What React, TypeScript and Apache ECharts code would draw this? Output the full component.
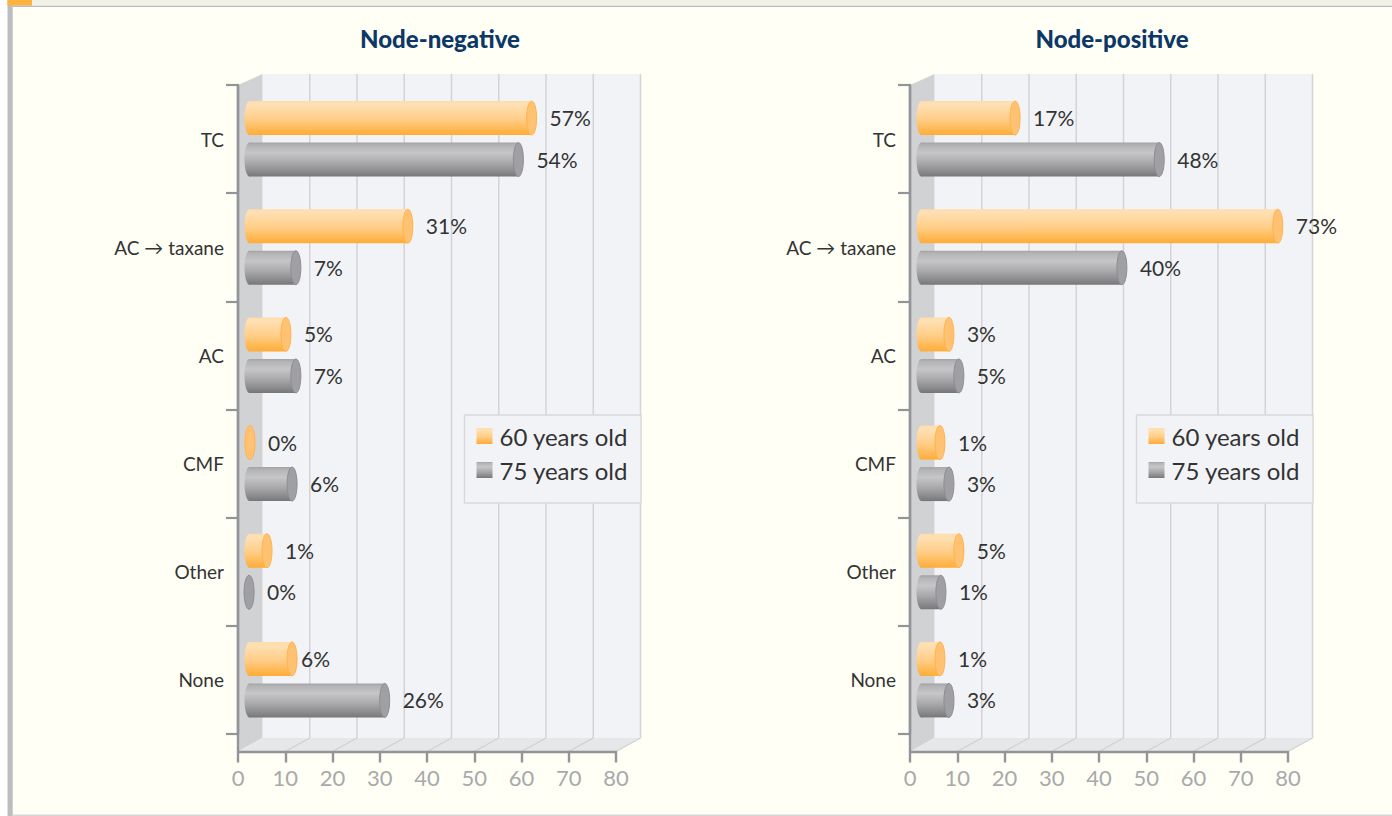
import React, { useEffect, useRef } from "react";
import * as echarts from "echarts";

const categories = ["TC", "AC → taxane", "AC", "CMF", "Other", "None"];
const axisTicks = [0, 10, 20, 30, 40, 50, 60, 70, 80];
const seriesNames = ["60 years old", "75 years old"];

// Printed percentages
const negative60 = [57, 31, 5, 0, 1, 6];
const negative75 = [54, 7, 7, 6, 0, 26];
const positive60 = [17, 73, 3, 1, 5, 1];
const positive75 = [48, 40, 5, 3, 1, 3];

// Where each 3-D cylinder's tip reads against the front x axis
const negative60Tip = [63.2, 37.0, 11.2, 3.6, 7.2, 12.5];
const negative75Tip = [60.4, 13.3, 13.3, 12.5, 3.4, 32.1];
const positive60Tip = [23.3, 78.9, 9.3, 7.4, 11.4, 7.4];
const positive75Tip = [53.8, 45.9, 11.4, 9.3, 7.6, 9.3];

const FONT = "Lato";
const DEPTH_X = 24.5;
const DEPTH_Y = 13.5;
const FLOOR_DROP = 17.5;
const TOP_RISE = 11;
const BAR_START = 6.5;
const BAR_H = 34;

const vGrad = (stops: [number, string][]) =>
  new echarts.graphic.LinearGradient(0, 0, 0, 1, stops.map(([offset, color]) => ({ offset, color })));

const orangeGrad = () => vGrad([[0, "#ffdcab"], [0.1, "#ffe0b4"], [0.55, "#ffcd86"], [0.92, "#ffb244"], [1, "#ffab38"]]);
const grayGrad = () => vGrad([[0, "#a3a3a6"], [0.08, "#b4b4b7"], [0.3, "#c6c6c8"], [0.6, "#a9a9ac"], [0.9, "#858588"], [1, "#767679"]]);

const renderScene = (params: any, api: any) => {
  const r = params.coordSys;
  const x0 = r.x;
  const x1 = r.x + r.width;
  const top = r.y;
  const bottom = r.y + r.height + FLOOR_DROP;
  const backTop = top - TOP_RISE;
  const backBottom = bottom - DEPTH_Y;
  const children: any[] = [
    { type: "rect", shape: { x: x0 + DEPTH_X, y: backTop, width: r.width, height: backBottom - backTop }, style: { fill: "#f2f3f6" } },
    { type: "polygon", shape: { points: [[x0, top], [x0 + DEPTH_X, backTop], [x0 + DEPTH_X, backBottom], [x0, bottom]] }, style: { fill: "#d1d2d4" } },
    { type: "polygon", shape: { points: [[x0, bottom], [x0 + DEPTH_X, backBottom], [x1 + DEPTH_X, backBottom], [x1, bottom]] }, style: { fill: "#e6e7e9" } },
    { type: "line", shape: { x1: x0, y1: r.y, x2: x0, y2: bottom }, style: { stroke: "#939497", lineWidth: 2.4 } },
  ];
  axisTicks.forEach((t) => {
    const x = api.coord([t, 0])[0];
    if (t > 0) {
      children.push({ type: "line", shape: { x1: x + DEPTH_X, y1: backTop, x2: x + DEPTH_X, y2: backBottom }, style: { stroke: "#d3d4d7", lineWidth: 1.5 } });
      children.push({ type: "line", shape: { x1: x, y1: bottom, x2: x + DEPTH_X, y2: backBottom }, style: { stroke: "#cfd0d3", lineWidth: 1.2 } });
    }
  });
  return { type: "group", children };
};

const makeBarRenderer = (kind: "orange" | "gray") => (params: any, api: any) => {
  const tipV = api.value(0);
  const cat = api.value(1);
  const label = api.value(2);
  const [tip, cy0] = api.coord([tipV, cat]);
  const base = api.coord([0, cat])[0] + BAR_START;
  const cy = cy0 + (kind === "orange" ? -21 : 20.5);
  const rx = 5;
  const ry = BAR_H / 2;
  const fill = kind === "orange" ? orangeGrad() : grayGrad();
  const capFill = kind === "orange" ? "#ffc272" : "#a0a0a4";
  const capStroke = kind === "orange" ? "#ffb34d" : "#8e8e92";
  const bodyW = Math.max(0, tip - base - 2 * rx);
  const labelGap = params.seriesName === seriesNames[0] && label === 6 ? 4 : 13;
  const children: any[] = [];
  if (bodyW > 0) {
    children.push({ type: "ellipse", shape: { cx: base + rx, cy, rx, ry }, style: { fill } });
    children.push({ type: "rect", shape: { x: base + rx, y: cy - ry, width: bodyW, height: BAR_H }, style: { fill } });
  }
  children.push({ type: "ellipse", shape: { cx: tip - rx, cy, rx, ry }, style: { fill: capFill, stroke: capStroke, lineWidth: 1 } });
  children.push({
    type: "text",
    x: tip + labelGap,
    y: cy - 0.5,
    style: { text: `${label}%`, fill: "#333333", font: `400 21px ${FONT}`, textAlign: "left", textVerticalAlign: "middle" },
  });
  return { type: "group", children };
};

const axisColor = "#939497";

const gridAxes = (left: number) => ({
  grid: { left, top: 85, width: 378, height: 649, containLabel: false },
  x: {
    type: "value",
    min: 0,
    max: 80,
    interval: 10,
    position: "bottom",
    offset: FLOOR_DROP,
    z: 3,
    splitLine: { show: false },
    axisLine: { show: true, onZero: false, lineStyle: { color: axisColor, width: 2.4 } },
    axisTick: { show: true, length: 11, lineStyle: { color: axisColor, width: 2.4 } },
    axisLabel: { color: "#a8a9ab", fontFamily: FONT, fontSize: 22, fontWeight: 400, margin: 15 },
  },
  y: {
    type: "category",
    data: categories,
    inverse: true,
    z: 3,
    axisLine: { show: true, onZero: false, lineStyle: { color: axisColor, width: 2.4 } },
    axisTick: { show: true, length: 12, lineStyle: { color: axisColor, width: 2.2 } },
    axisLabel: { color: "#333333", fontFamily: FONT, fontSize: 19, margin: 14, interval: 0 },
  },
});

const triple = (tips: number[], labels: number[]) => tips.map((t, i) => [t, i, labels[i]]);

const legendFor = (left: number) => ({
  left,
  top: 415,
  orient: "vertical",
  padding: [9, 13, 21, 12],
  itemGap: 10,
  itemWidth: 16,
  itemHeight: 16,
  icon: "rect",
  backgroundColor: "#f2f3f6",
  borderColor: "#d8d9dc",
  borderWidth: 1.5,
  z: 6,
  textStyle: { color: "#333333", fontFamily: FONT, fontSize: 24, padding: [0, 0, 0, 2] },
  data: [
    { name: seriesNames[0], itemStyle: { color: orangeGrad() } },
    { name: seriesNames[1], itemStyle: { color: grayGrad() } },
  ],
});

const titleStyle = { color: "#0c3868", fontFamily: FONT, fontWeight: 900, fontSize: 24 };

export default function App() {
  const ref = useRef<HTMLDivElement>(null);
  useEffect(() => {
    document.body.style.margin = "0";
    document.body.style.overflow = "hidden";
    const chart = echarts.init(ref.current!, undefined, { renderer: "svg" });
    const a = gridAxes(238);
    const b = gridAxes(910);
    const barSeries = (name: string, kind: "orange" | "gray", idx: number, data: number[][]) => ({
      type: "custom",
      name,
      coordinateSystem: "cartesian2d",
      xAxisIndex: idx,
      yAxisIndex: idx,
      z: 4,
      clip: false,
      encode: { x: 0, y: 1 },
      itemStyle: { color: kind === "orange" ? "#ffc272" : "#9b9b9e" },
      renderItem: makeBarRenderer(kind),
      data,
    });
    const scene = (idx: number) => ({
      type: "custom",
      name: `scene${idx}`,
      coordinateSystem: "cartesian2d",
      xAxisIndex: idx,
      yAxisIndex: idx,
      z: 1,
      silent: true,
      clip: false,
      renderItem: renderScene,
      encode: { x: 0, y: 1 },
      data: [[0, 0]],
    });
    chart.setOption({
      animation: false,
      backgroundColor: "#fffff6",
      title: [
        { text: "Node-negative", left: 435, top: 21, textAlign: "center", textStyle: titleStyle },
        { text: "Node-positive", left: 1107, top: 21, textAlign: "center", textStyle: titleStyle },
      ],
      grid: [a.grid, b.grid],
      xAxis: [{ ...a.x, gridIndex: 0 }, { ...b.x, gridIndex: 1 }],
      yAxis: [{ ...a.y, gridIndex: 0 }, { ...b.y, gridIndex: 1 }],
      legend: [legendFor(464.5), legendFor(1136.5)],
      graphic: [
        { type: "rect", shape: { x: 0, y: 0, width: 7.5, height: 816 }, style: { fill: "#ffffff" } },
        { type: "rect", shape: { x: 7.5, y: 0, width: 5.2, height: 816 }, style: { fill: "#bcbdc1" } },
        { type: "rect", shape: { x: 12.7, y: 0, width: 1380, height: 5.7 }, style: { fill: "#f2f1e6" } },
        { type: "rect", shape: { x: 7.5, y: 0, width: 24.5, height: 5.7 }, style: { fill: "#fdb33f" } },
        { type: "rect", shape: { x: 12.7, y: 5.7, width: 1380, height: 1.3 }, style: { fill: "#bcbdc1" } },
        { type: "rect", shape: { x: 12.7, y: 814.5, width: 1380, height: 1.5 }, style: { fill: "#d6d7d6" } },
      ],
      series: [
        scene(0),
        scene(1),
        barSeries(seriesNames[0], "orange", 0, triple(negative60Tip, negative60)),
        barSeries(seriesNames[1], "gray", 0, triple(negative75Tip, negative75)),
        barSeries(seriesNames[0], "orange", 1, triple(positive60Tip, positive60)),
        barSeries(seriesNames[1], "gray", 1, triple(positive75Tip, positive75)),
      ],
    });
    return () => chart.dispose();
  }, []);
  return <div ref={ref} style={{ width: 1392, height: 816 }} />;
}
